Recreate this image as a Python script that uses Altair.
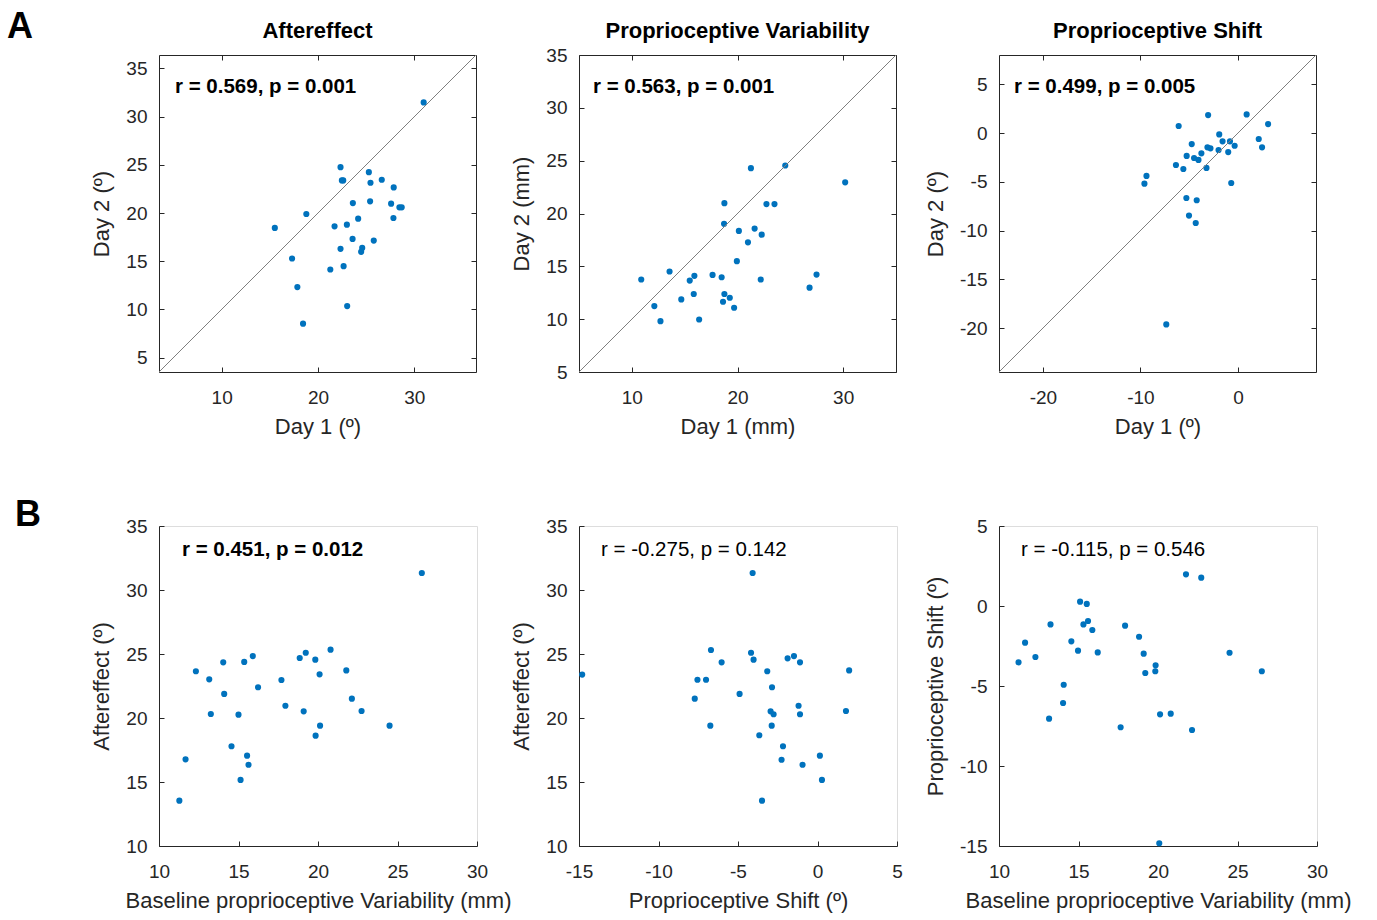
import altair as alt
import pandas as pd

FONT = "Liberation Sans"
BLUE = "#0072BD"
AX = "#262626"

# ---------------- data ----------------
# A1: Aftereffect Day 1 vs Day 2
a1_x = [30.97, 22.34, 22.48, 22.62, 25.28, 25.45, 26.62, 27.86, 23.62, 25.41, 27.59, 28.45, 28.69, 18.79, 15.52,
        21.72, 23.0, 24.17, 27.83, 23.59, 25.79, 22.34, 24.59, 24.48, 17.31, 21.28, 22.66, 17.86, 23.03, 18.45]
a1_y = [31.48, 24.76, 23.38, 23.38, 24.24, 23.14, 23.45, 22.66, 21.03, 21.21, 20.97, 20.59, 20.59, 19.9, 18.45,
        18.62, 18.79, 19.41, 19.48, 17.31, 17.14, 16.28, 16.38, 15.97, 15.28, 14.14, 14.48, 12.31, 10.34, 8.52]
# A2: Proprioceptive Variability Day 1 vs Day 2
a2_x = [21.27, 24.52, 30.19, 18.76, 22.74, 23.5, 18.73, 20.13, 21.62, 22.29, 20.99, 19.94, 10.89, 13.57, 15.48,
        15.92, 17.64, 18.5, 22.2, 27.48, 26.82, 14.68, 15.86, 18.76, 19.27, 18.63, 19.68, 12.13, 12.71, 16.37]
a2_y = [24.29, 24.54, 22.95, 20.98, 20.89, 20.89, 19.02, 18.35, 18.57, 18.0, 17.27, 15.49, 13.75, 14.51, 13.65,
        14.1, 14.19, 13.97, 13.75, 14.22, 12.98, 11.87, 12.38, 12.38, 12.03, 11.65, 11.08, 11.24, 9.81, 9.97]
# A3: Proprioceptive Shift Day 1 vs Day 2
a3_x = [-3.06, 0.89, -6.08, 3.09, -1.92, -1.58, -0.82, -0.34, 2.13, 2.47, -4.74, -3.13, -2.82, -1.99, -1.0,
        -5.26, -4.5, -4.05, -3.75, -6.36, -5.6, -3.23, -9.38, -9.59, -0.69, -5.29, -4.23, -5.02, -4.33, -7.35]
a3_y = [1.84, 1.91, 0.72, 0.92, -0.14, -0.85, -0.85, -1.3, -0.61, -1.47, -1.13, -1.47, -1.57, -1.74, -1.95,
        -2.35, -2.56, -2.76, -2.08, -3.28, -3.69, -3.58, -4.4, -5.19, -5.12, -6.66, -6.89, -8.46, -9.22, -19.62]
# B1: Baseline variability vs Aftereffect
b1_x = [26.53, 12.32, 13.16, 14.04, 14.1, 13.26, 15.0, 15.36, 15.9, 16.23, 14.56, 15.54, 15.63, 15.13, 11.67,
        11.28, 17.7, 17.95, 18.85, 19.23, 19.83, 20.1, 20.79, 19.1, 20.13, 19.85, 21.78, 22.13, 22.74, 24.5]
b1_y = [31.33, 23.65, 23.02, 24.35, 21.88, 20.31, 20.26, 24.38, 24.84, 22.4, 17.79, 17.06, 16.35, 15.16, 16.77,
        13.54, 22.97, 20.96, 24.69, 25.1, 24.56, 23.41, 25.34, 20.52, 19.4, 18.62, 23.72, 21.51, 20.55, 19.4]
# B2: Proprioceptive shift vs Aftereffect
b2_x = [-14.8, -4.08, -6.7, -6.03, -7.55, -7.01, -7.72, -6.74, -4.9, -4.18, -4.02, -3.16, -2.86, -2.95, -2.76,
        -2.88, -3.66, -2.17, -2.26, -3.49, -1.88, -1.48, -1.1, -1.19, -1.1, -0.94, 0.15, 0.28, 1.99, 1.79]
b2_y = [23.39, 31.33, 25.31, 24.35, 22.99, 22.99, 21.51, 19.4, 21.88, 25.1, 24.56, 23.65, 22.4, 20.52, 20.29,
        19.4, 18.65, 17.79, 16.74, 13.54, 24.66, 24.84, 24.35, 20.96, 20.29, 16.35, 17.06, 15.16, 23.72, 20.55]
# B3: Baseline variability vs Proprioceptive shift
b3_x = [21.76, 22.72, 15.1, 15.52, 13.24, 15.31, 15.6, 15.87, 17.93, 11.64, 12.29, 11.23, 14.55, 14.97, 16.21,
        18.81, 19.1, 19.85, 19.83, 19.2, 24.5, 26.53, 14.07, 14.03, 13.15, 17.65, 20.13, 20.8, 22.14, 20.08]
b3_y = [1.98, 1.77, 0.27, 0.13, -1.15, -1.15, -0.94, -1.5, -1.23, -2.29, -3.19, -3.52, -2.21, -2.79, -2.9,
        -1.92, -2.98, -3.71, -4.08, -4.19, -2.92, -4.08, -4.92, -6.06, -7.04, -7.58, -6.77, -6.73, -7.75, -14.83]

# axis limits and ticks
a1_lim = [3.5, 36.4]
a2_lim = [5, 35]
a3_lim = [-24.5, 8]
a1_xt = [10, 20, 30]
a1_yt = [5, 10, 15, 20, 25, 30, 35]
a3_xt = [-20, -10, 0]
a3_yt = [-20, -15, -10, -5, 0, 5]
bvar_lim = [10, 30]
bvar_t = [10, 15, 20, 25, 30]
bae_lim = [10, 35]
bae_t = [10, 15, 20, 25, 30, 35]
bshx_lim = [-15, 5]
bshx_t = [-15, -10, -5, 0, 5]
bshy_lim = [-15, 5]
bshy_t = [-15, -10, -5, 0, 5]

stats = ["r = 0.569, p = 0.001", "r = 0.563, p = 0.001", "r = 0.499, p = 0.005",
         "r = 0.451, p = 0.012", "r = -0.275, p = 0.142", "r = -0.115, p = 0.546"]
titles = ["Aftereffect", "Proprioceptive Variability", "Proprioceptive Shift"]

TW, TH = 317, 317
BW, BH = 318, 320

NEG = {"expr": "-5"}


def axis(values, title, orient, labels=True, y=False):
    kw = dict(values=values, orient=orient, tickSize=NEG, tickColor=AX, domainColor=AX, domainWidth=1,
              tickWidth=1, labelFont=FONT, labelFontSize=19, labelColor=AX, titleFont=FONT, titleFontSize=22,
              titleFontWeight="normal", titleColor=AX, grid=False,
              labelPadding=17 if y else 21, titlePadding=12 if y else 9,
              labelFlush=False, labelOverlap=False, labelExpr="datum.value + ''")
    if not labels:
        kw["labels"] = False
        kw["title"] = ""
    else:
        kw["title"] = title
    return alt.Axis(**kw)


def note(text, x, y, size, bold, baseline="middle", align="left"):
    return alt.Chart(pd.DataFrame({"t": [text]})).mark_text(
        align=align, baseline=baseline, font=FONT, fontSize=size,
        fontWeight="bold" if bold else "normal", color="black"
    ).encode(x=alt.value(x), y=alt.value(y), text="t:N")


def panel(xs, ys, xlim, ylim, xt, yt, xtitle, ytitle, stat, bold, sx, sy, box, W, H,
          title=None, letter=None, lx=0, ly=0):
    df = pd.DataFrame({"x": xs, "y": ys})
    xs_ = alt.Scale(domain=xlim, nice=False, zero=False)
    ys_ = alt.Scale(domain=ylim, nice=False, zero=False)
    layers = [alt.Chart(df).mark_circle(size=38, color=BLUE, opacity=1).encode(
        x=alt.X("x:Q", scale=xs_, axis=axis(xt, xtitle, "bottom")),
        y=alt.Y("y:Q", scale=ys_, axis=axis(yt, ytitle, "left", y=True)),
    )]
    if box:
        ld = pd.DataFrame({"x": xlim, "y": ylim})
        layers.append(alt.Chart(ld).mark_line(color="#7f7f7f", strokeWidth=1).encode(
            x=alt.X("x:Q", scale=xs_, axis=axis(xt, "", "top", False)),
            y=alt.Y("y:Q", scale=ys_, axis=axis(yt, "", "right", False, y=True)),
        ))
    layers.append(note(stat, sx, sy, 20.5, bold))
    if title:
        layers.append(note(title, W / 2, -17, 22, True, baseline="alphabetic", align="center"))
    if letter:
        layers.append(note(letter, lx, ly, 36, True, baseline="alphabetic"))
    return alt.layer(*layers).properties(width=W, height=H)


deg = "(º)"
A1 = panel(a1_x, a1_y, a1_lim, a1_lim, a1_xt, a1_yt, "Day 1 " + deg, "Day 2 " + deg, stats[0], True, 16, 32,
           True, TW, TH, titles[0], "A", -152, -17)
A2 = panel(a2_x, a2_y, a2_lim, a2_lim, a1_xt, a1_yt, "Day 1 (mm)", "Day 2 (mm)", stats[1], True, 14, 32,
           True, TW, TH, titles[1])
A3 = panel(a3_x, a3_y, a3_lim, a3_lim, a3_xt, a3_yt, "Day 1 " + deg, "Day 2 " + deg, stats[2], True, 15, 32,
           True, TW, TH, titles[2])
B1 = panel(b1_x, b1_y, bvar_lim, bae_lim, bvar_t, bae_t, "Baseline proprioceptive Variability (mm)",
           "Aftereffect " + deg, stats[3], True, 23, 24, False, BW, BH, None, "B", -144, 0)
B2 = panel(b2_x, b2_y, bshx_lim, bae_lim, bshx_t, bae_t, "Proprioceptive Shift " + deg,
           "Aftereffect " + deg, stats[4], False, 22, 24, False, BW, BH)
B3 = panel(b3_x, b3_y, bvar_lim, bshy_lim, bvar_t, bshy_t, "Baseline proprioceptive Variability (mm)",
           "Proprioceptive Shift " + deg, stats[5], False, 22, 24, False, BW, BH)

chart = alt.concat(A1, A2, A3, B1, B2, B3, columns=3, spacing={"row": 154, "column": 102},
                   bounds="flush").properties(
    padding={"left": 6, "top": 8, "right": 5, "bottom": 5},
    background="white",
).configure_view(stroke="transparent").configure(font=FONT)

chart.save("out.html", embed_options={"renderer": "svg", "actions": False})
